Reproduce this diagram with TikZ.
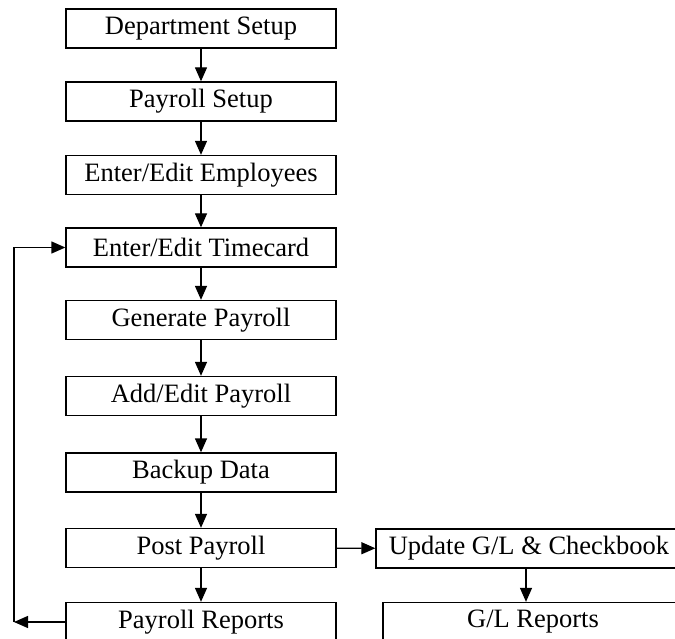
\documentclass[tikz,border=0pt]{standalone}
\usepackage{fontspec}
\setmainfont{Liberation Serif}
\usetikzlibrary{arrows.meta}
\begin{document}
\begin{tikzpicture}[x=1pt,y=-1pt,
  box/.style={draw,line width=1.3pt,rectangle,minimum height=39pt,inner sep=0pt,
    font=\fontsize{26.5}{26.5}\selectfont},
  mainbox/.style={box,minimum width=270pt},
  arr/.style={line width=1.3pt,-{Triangle[width=12pt,length=14pt]}},
  ln/.style={line width=1.3pt}]
\useasboundingbox (0,0) rectangle (675,639);
\clip (0,0) rectangle (675,639);
\node[mainbox] (dept) at (201,28.5) {Department Setup};
\node[mainbox] (pset) at (201,101.5) {Payroll Setup};
\node[mainbox] (emp) at (201,175) {Enter/Edit Employees};
\node[mainbox] (tc) at (201,247.5) {Enter/Edit Timecard};
\node[mainbox] (gen) at (201,320) {Generate Payroll};
\node[mainbox] (add) at (201,396) {Add/Edit Payroll};
\node[mainbox] (bak) at (201,472.5) {Backup Data};
\node[mainbox] (post) at (201,548) {Post Payroll};
\node[mainbox] (rep) at (201,622) {Payroll Reports};
\node[box,minimum width=306pt] (upd) at (529,548.5) {Update G/L \& Checkbook};
\node[box,minimum width=300pt] (glr) at (533,622) {G/L Reports};
\coordinate (fb) at (14,622);
\draw[arr] (dept) -- (pset);
\draw[arr] (pset) -- (emp);
\draw[arr] (emp) -- (tc);
\draw[arr] (tc) -- (gen);
\draw[arr] (gen) -- (add);
\draw[arr] (add) -- (bak);
\draw[arr] (bak) -- (post);
\draw[arr] (post) -- (rep);
\draw[arr] (post) -- (upd);
\draw[arr] (upd.south -| 526,0) -- (glr.north -| 526,0);
\draw[arr] (rep.west) -- (fb);
\draw[arr] (fb) |- (tc.west);
\end{tikzpicture}
\end{document}
